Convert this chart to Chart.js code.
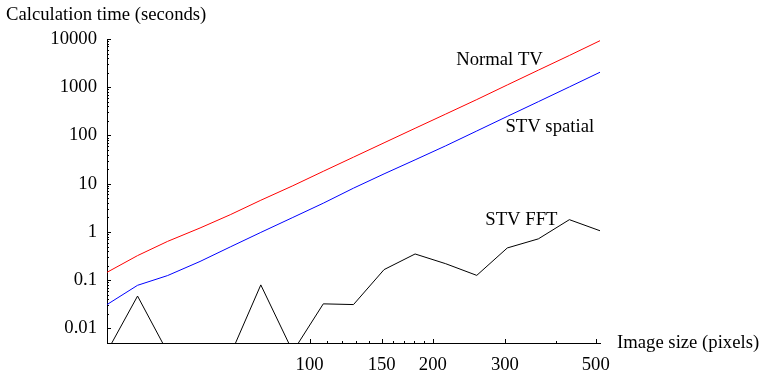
<!DOCTYPE html>
<html>
<head>
<meta charset="utf-8">
<script src="https://cdn.jsdelivr.net/npm/chart.js@4/dist/chart.umd.min.js"></script>
<style>
  body { margin: 0; background: white; }
</style>
</head>
<body>
<canvas id="timeChart" width="761" height="374"></canvas>
<script>
// image sizes (pixels) and timings (seconds)
const imageSizes = [32, 38, 45, 54, 64, 76, 91, 108, 128, 152, 181, 215, 256, 304, 362, 431, 512];
const normalTV = [0.146, 0.324, 0.639, 1.21, 2.28, 4.55, 9.08, 18.1, 35.6, 70.5, 141, 278, 555, 1117, 2262, 4560, 9220];
const stvSpatial = [0.0313, 0.0785, 0.125, 0.245, 0.49, 0.98, 2.0, 3.95, 8.1, 16.0, 31.3, 61.1, 124, 249, 502, 1016, 2046];
const stvFFT = [0.0033, 0.047, 0.0032, 0.003, 0.0028, 0.080, 0.0033, 0.0324, 0.0313, 0.166, 0.35, 0.22, 0.126, 0.467, 0.72, 1.80, 1.06];

const xTicks = [100, 150, 200, 300, 500];
const xMinorTicks = [110, 120, 130, 140, 160, 170, 180, 190, 400];
const yTicks = [0.01, 0.1, 1, 10, 100, 1000, 10000];

const serif = 'Liberation Serif';
const fontSize = 18.7;
const textColor = 'black';

function toPoints(values) {
    return imageSizes.map((size, i) => ({ x: size, y: values[i] }));
}

// Mathematica style ticks, pointing into the plot
const tickMarks = {
    id: 'tickMarks',
    afterDraw(chart) {
        const ctx = chart.ctx;
        const xs = chart.scales.x;
        const ys = chart.scales.y;
        const area = chart.chartArea;
        ctx.save();
        ctx.strokeStyle = textColor;
        ctx.lineWidth = 1;
        ctx.beginPath();
        for (let k = -2; k <= 4; k++) {
            for (let m = 1; m <= 9; m++) {
                const v = m * Math.pow(10, k);
                if (v > 10000.0001) continue;
                const py = Math.round(ys.getPixelForValue(v)) + 0.5;
                const len = m === 1 ? 4 : 2;
                ctx.moveTo(area.left, py);
                ctx.lineTo(area.left + len, py);
            }
        }
        xTicks.forEach(v => {
            const px = Math.round(xs.getPixelForValue(v)) + 0.5;
            ctx.moveTo(px, area.bottom);
            ctx.lineTo(px, area.bottom - 4);
        });
        xMinorTicks.forEach(v => {
            const px = Math.round(xs.getPixelForValue(v)) + 0.5;
            ctx.moveTo(px, area.bottom);
            ctx.lineTo(px, area.bottom - 2);
        });
        ctx.stroke();
        ctx.restore();
    }
};

// axis titles and curve names
const plotTexts = {
    id: 'plotTexts',
    afterDraw(chart) {
        const ctx = chart.ctx;
        const xs = chart.scales.x;
        const ys = chart.scales.y;
        const area = chart.chartArea;
        ctx.save();
        ctx.fillStyle = textColor;
        ctx.font = fontSize + 'px "' + serif + '"';
        ctx.textBaseline = 'middle';
        ctx.textAlign = 'left';
        ctx.fillText('Calculation time (seconds)', 6, 15);
        ctx.fillText('Image size (pixels)', area.right + 17, area.bottom);
        ctx.textAlign = 'center';
        ctx.fillText('Normal TV', xs.getPixelForValue(291), ys.getPixelForValue(3670));
        ctx.fillText('STV spatial', xs.getPixelForValue(386), ys.getPixelForValue(146));
        ctx.fillText('STV FFT', xs.getPixelForValue(329), ys.getPixelForValue(1.74));
        ctx.restore();
    }
};

const ctx = document.getElementById('timeChart').getContext('2d');
new Chart(ctx, {
    type: 'scatter',
    data: {
        datasets: [
            { label: 'Normal TV', data: toPoints(normalTV), borderColor: '#ff0000' },
            { label: 'STV spatial', data: toPoints(stvSpatial), borderColor: '#0000ff' },
            { label: 'STV FFT', data: toPoints(stvFFT), borderColor: '#000000' }
        ]
    },
    options: {
        responsive: false,
        animation: false,
        showLine: true,
        elements: {
            point: { radius: 0 },
            line: { borderWidth: 1, tension: 0, fill: false }
        },
        layout: { padding: { top: 39, right: 161, left: 0, bottom: 0 } },
        plugins: {
            legend: { display: false },
            tooltip: { enabled: false }
        },
        scales: {
            x: {
                type: 'logarithmic',
                min: 32,
                max: 512,
                grid: { display: false, drawTicks: false },
                border: { display: true, color: textColor, width: 1 },
                afterBuildTicks(scale) {
                    scale.ticks = xTicks.map(v => ({ value: v }));
                },
                afterFit(scale) { scale.height = 31; },
                ticks: {
                    color: textColor,
                    font: { family: serif, size: fontSize },
                    padding: 11,
                    autoSkip: false,
                    maxRotation: 0,
                    callback: v => String(v)
                }
            },
            y: {
                type: 'logarithmic',
                min: 0.005,
                max: 10000,
                grid: { display: false, drawTicks: false },
                border: { display: true, color: textColor, width: 1 },
                afterBuildTicks(scale) {
                    scale.ticks = yTicks.map(v => ({ value: v }));
                },
                afterFit(scale) { scale.width = 107; },
                ticks: {
                    color: textColor,
                    font: { family: serif, size: fontSize },
                    padding: 10,
                    autoSkip: false,
                    callback: v => String(v)
                }
            }
        }
    },
    plugins: [tickMarks, plotTexts]
});
</script>
</body>
</html>
